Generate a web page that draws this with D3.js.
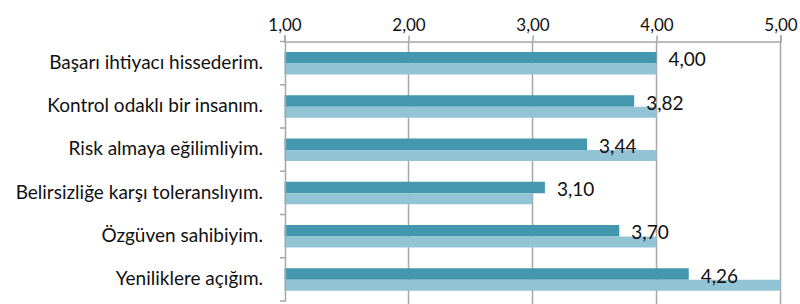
<!DOCTYPE html>
<html><head><meta charset="utf-8">
<script src="https://cdn.jsdelivr.net/npm/d3@7"></script>
<style>body{margin:0;background:#fff}svg{display:block}</style>
</head><body><svg id="c" width="800" height="304"></svg>
<script>
const categories = ["Başarı ihtiyacı hissederim.","Kontrol odaklı bir insanım.","Risk almaya eğilimliyim.","Belirsizliğe karşı toleranslıyım.","Özgüven sahibiyim.","Yeniliklere açığım."];
const meanValues = [4.00,3.82,3.44,3.10,3.70,4.26];
const secondValues = [4,4,4,3,4,5];
const tickValues = [1,2,3,4,5];
const seriesNames = ["Ortalama","Medyan"];
const colors = ["#4397af","#93c4d6"];
const fmt = v => v.toFixed(2).replace(".", ",");
const font = "Lato, 'Open Sans', sans-serif";

const svg = d3.select("#c");
const x = d3.scaleLinear().domain([1,5]).range([284.5,780.5]);
const y = d3.scaleBand().domain(categories).range([41.5,301]);
const sub = d3.scaleBand().domain(seriesNames).range([10.5,33.5]);

// gridlines
svg.append("g").selectAll("line").data(tickValues.slice(1)).join("line")
  .attr("x1",d=>x(d)).attr("x2",d=>x(d)).attr("y1",41.5).attr("y2",304)
  .attr("stroke","#a6a6a6").attr("stroke-width",1.5);

// top axis
const xAxis = d3.axisTop(x).tickValues(tickValues).tickFormat(fmt).tickSize(6).tickPadding(5);
const gx = svg.append("g").attr("transform","translate(0,41.5)").call(xAxis);
gx.select(".domain").attr("stroke","#a6a6a6").attr("stroke-width",1.5);
gx.selectAll(".tick line").attr("stroke","#a6a6a6").attr("stroke-width",1.5);
gx.selectAll("text").attr("font-family",font).attr("font-size",17).attr("fill","#111");

// bars
const rows = categories.map((c,i)=>({c, vals:[meanValues[i],secondValues[i]]}));
const g = svg.append("g");
rows.forEach(r=>{
  r.vals.forEach((v,j)=>{
    g.append("rect").attr("x",x(1)).attr("y",y(r.c)+sub(seriesNames[j]))
      .attr("width",x(v)-x(1)).attr("height",sub.bandwidth()-(j===1?0.5:0))
      .attr("fill",colors[j]);
  });
});

// left axis
const yAxis = d3.axisLeft(y).tickSize(0).tickPadding(22);
const gy = svg.append("g").attr("transform","translate(285,0)").call(yAxis);
gy.select(".domain").attr("stroke","#a6a6a6").attr("stroke-width",1.5);
gy.selectAll("text").attr("font-family",font).attr("font-size",19).attr("fill","#111").attr("dy","0.3em");
svg.append("g").selectAll("line").data(categories.map(c=>y(c)).concat([301])).join("line")
  .attr("x1",280).attr("x2",285).attr("y1",d=>d).attr("y2",d=>d)
  .attr("stroke","#a6a6a6").attr("stroke-width",1.5);

// value labels
svg.append("g").selectAll("text").data(rows).join("text")
  .attr("x",d=>x(d.vals[0])+12).attr("y",d=>y(d.c)+sub(seriesNames[0])+sub.bandwidth()/2+2)
  .attr("dy","0.35em").attr("font-family",font).attr("font-size",19).attr("fill","#111")
  .text(d=>fmt(d.vals[0]));
</script></body></html>
